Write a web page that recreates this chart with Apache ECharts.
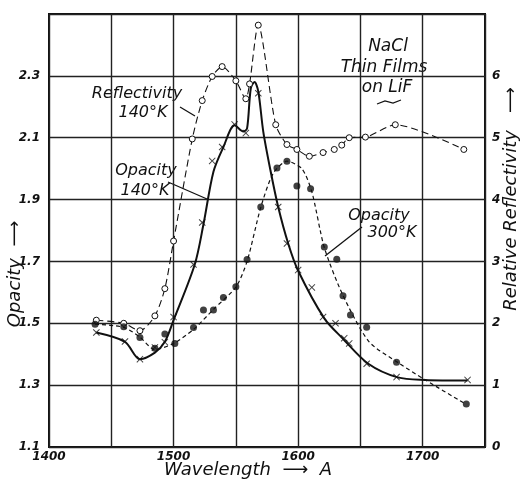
<!DOCTYPE html>
<html><head><meta charset="utf-8">
<script src="https://cdn.jsdelivr.net/npm/echarts@6/dist/echarts.min.js"></script>
<style>html,body{margin:0;background:#fff}#c{width:523px;height:480px}</style>
</head><body><div id="c"></div>
<script>
// ---- data ----
const wavelengthTicks = [1400, 1500, 1600, 1700];
const opacityTicks = [1.1, 1.3, 1.5, 1.7, 1.9, 2.1, 2.3];
const reflTicks = [0, 1, 2, 3, 4, 5, 6];

// Relative reflectivity at 140 K (open circles) [wavelength A, reflectivity]
const reflectivity140 = [
  [1438, 2.05], [1460, 2.0], [1473, 1.88], [1485, 2.12], [1493, 2.56], [1500, 3.33],
  [1515, 4.98], [1523, 5.6], [1531, 5.99], [1539, 6.15], [1550, 5.92], [1558, 5.63],
  [1561, 5.87], [1568, 6.82], [1582, 5.21], [1591, 4.89], [1599, 4.81], [1609, 4.70],
  [1620, 4.76], [1629, 4.81], [1635, 4.88], [1641, 5.0], [1654, 5.01], [1678, 5.21],
  [1733, 4.81]
];
// Opacity at 140 K (crosses)
const opacity140Points = [
  [1438, 1.47], [1461, 1.441], [1473, 1.384], [1485, 1.422], [1493, 1.439], [1500, 1.52],
  [1516, 1.69], [1523, 1.826], [1531, 2.025], [1539, 2.07], [1549, 2.143], [1558, 2.115],
  [1568, 2.244], [1584, 1.876], [1591, 1.758], [1600, 1.672], [1611, 1.616], [1620, 1.52],
  [1630, 1.50], [1637, 1.452], [1641, 1.435], [1655, 1.369], [1679, 1.326], [1736, 1.317]
];
// Opacity at 140 K, drawn curve
const opacity140Curve = [
  [1438, 1.47], [1461, 1.44], [1473, 1.384], [1485, 1.405], [1493, 1.44],
  [1500, 1.51], [1517, 1.69], [1524, 1.82], [1532, 1.99], [1540, 2.07],
  [1549, 2.14], [1556, 2.12], [1559, 2.13], [1562, 2.26], [1565, 2.28], [1568, 2.25],
  [1572, 2.12], [1578, 1.99], [1584, 1.876], [1592, 1.758], [1600, 1.67],
  [1621, 1.516], [1636, 1.45], [1656, 1.37], [1680, 1.325], [1702, 1.317], [1736, 1.315]
];
// Opacity at 300 K (filled dots)
const opacity300Points = [
  [1437, 1.497], [1460, 1.489], [1473, 1.454], [1485, 1.419], [1493, 1.465], [1501, 1.435],
  [1516, 1.486], [1524, 1.543], [1532, 1.543], [1540, 1.583], [1550, 1.618], [1559, 1.706],
  [1570, 1.876], [1583, 2.002], [1591, 2.024], [1599, 1.944], [1610, 1.935], [1621, 1.747],
  [1631, 1.707], [1636, 1.589], [1642, 1.527], [1655, 1.487], [1679, 1.374], [1735, 1.239]
];
// Opacity at 300 K, drawn curve
const opacity300Curve = [
  [1437, 1.497], [1460, 1.487], [1473, 1.455], [1485, 1.415], [1500, 1.435], [1516, 1.48],
  [1532, 1.545], [1550, 1.617], [1559, 1.7], [1570, 1.875], [1580, 1.985], [1591, 2.024],
  [1603, 2.0], [1611, 1.925], [1621, 1.745], [1636, 1.59], [1657, 1.44], [1681, 1.371],
  [1702, 1.317], [1734, 1.24]
];

// ---- chart ----
const FONT = 'DejaVu Sans';
const INK = '#111';
const crossSymbol = 'path://M0,1 L1,0 L5,4 L9,0 L10,1 L6,5 L10,9 L9,10 L5,6 L1,10 L0,9 L4,5 Z';
const tickLabel = { color: INK, fontFamily: FONT, fontStyle: 'italic', fontWeight: 'bold', fontSize: 12 };
const txt = (x, y, s, size, rot) => ({
  type: 'text', x: x, y: y, rotation: rot || 0,
  style: { text: s, fill: INK, font: 'italic ' + size + 'px "' + FONT + '"', textAlign: 'center', textVerticalAlign: 'middle' }
});
const seg = (x1, y1, x2, y2, w) => ({
  type: 'line', shape: { x1: x1, y1: y1, x2: x2, y2: y2 }, style: { stroke: INK, lineWidth: w || 1.3 }
});

const chart = echarts.init(document.getElementById('c'), null, { renderer: 'canvas' });
chart.setOption({
  backgroundColor: '#fff',
  animation: false,
  grid: { left: 49, right: 38, top: 14, bottom: 33, show: true, borderColor: INK, borderWidth: 2, backgroundColor: 'transparent' },
  xAxis: {
    type: 'value', min: 1400, max: 1750, interval: 50,
    axisLine: { show: false }, axisTick: { show: false },
    splitLine: { show: true, lineStyle: { color: '#222', width: 1.4 } },
    axisLabel: Object.assign({ margin: 4, formatter: v => wavelengthTicks.includes(v) ? String(v) : '' }, tickLabel)
  },
  yAxis: [
    {
      type: 'value', min: 1.1, max: 2.5, interval: 0.1,
      axisLine: { show: false }, axisTick: { show: false }, splitLine: { show: false },
      axisLabel: Object.assign({ margin: 9, formatter: v => opacityTicks.some(t => Math.abs(t - v) < 1e-6) ? v.toFixed(1) : '' }, tickLabel)
    },
    {
      type: 'value', min: 0, max: 7, interval: 1, position: 'right',
      axisLine: { show: false }, axisTick: { show: false },
      splitLine: { show: true, lineStyle: { color: '#222', width: 1.4 } },
      axisLabel: Object.assign({ margin: 7, formatter: v => reflTicks.includes(v) ? String(v) : '' }, tickLabel)
    }
  ],
  series: [
    {
      name: 'Reflectivity 140°K', type: 'line', yAxisIndex: 1, data: reflectivity140,
      smooth: 0.25, symbol: 'circle', symbolSize: 6, showAllSymbol: true,
      lineStyle: { color: INK, width: 1.1, type: [7, 4] },
      itemStyle: { color: '#fff', borderColor: INK, borderWidth: 1 }, z: 3
    },
    {
      name: 'Opacity 140°K curve', type: 'line', yAxisIndex: 0, data: opacity140Curve,
      smooth: 0.3, showSymbol: false, symbol: 'none',
      lineStyle: { color: INK, width: 2 }, z: 3
    },
    {
      name: 'Opacity 140°K', type: 'scatter', yAxisIndex: 0, data: opacity140Points,
      symbol: crossSymbol, symbolSize: 7, itemStyle: { color: INK }, z: 4
    },
    {
      name: 'Opacity 300°K curve', type: 'line', yAxisIndex: 0, data: opacity300Curve,
      smooth: 0.25, showSymbol: false, symbol: 'none',
      lineStyle: { color: INK, width: 1.2, type: [4, 3] }, z: 3
    },
    {
      name: 'Opacity 300°K', type: 'scatter', yAxisIndex: 0, data: opacity300Points,
      symbol: 'circle', symbolSize: 7, itemStyle: { color: INK }, z: 4
    }
  ],
  graphic: [
    txt(137, 94, 'Reflectivity', 16), txt(143, 113, '140°K', 16), seg(180, 107, 195, 116),
    txt(146, 171, 'Opacity', 16), txt(145, 191, '140°K', 16), seg(168, 182, 207, 199),
    txt(379, 216, 'Opacity', 16), txt(392, 233, '300°K', 16), seg(362, 227, 325, 256),
    txt(388, 47, 'NaCl', 17), txt(384, 68, 'Thin Films', 17), txt(387, 88, 'on LiF', 17),
    { type: 'polyline', shape: { points: [[377, 104], [385, 101], [393, 103], [401, 100]] }, style: { stroke: INK, lineWidth: 1.2, fill: null } },
    txt(15, 274, 'Opacity  ⟶', 18, Math.PI / 2),
    txt(511, 199, 'Relative Reflectivity   ⟶', 18, Math.PI / 2),
    txt(248, 470, 'Wavelength  ⟶  A', 18)
  ]
});
</script>
</body></html>
